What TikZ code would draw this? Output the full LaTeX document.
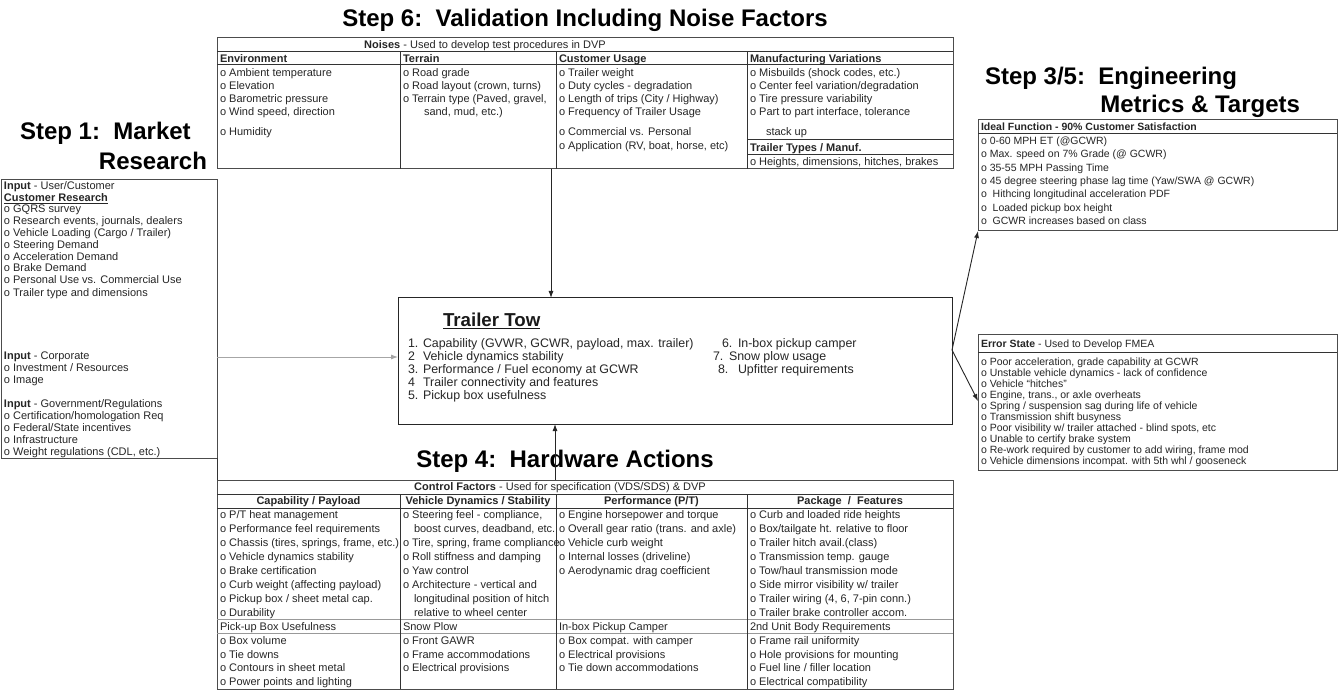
\documentclass[tikz,border=0pt]{standalone}
\usepackage{fontspec}
\setmainfont{Liberation Sans}
\usetikzlibrary{arrows.meta}
% font sizes (1pt = 1 output pixel)
\newcommand\tabfont{\fontsize{11}{13}\selectfont}
\newcommand\boxfont{\fontsize{10.5}{12}\selectfont}
\newcommand\ctrfont{\fontsize{12.4}{14}\selectfont}
\newcommand\stepfont{\fontsize{24}{26}\selectfont\bfseries}
\begin{document}
\begin{tikzpicture}[x=1pt,y=-1pt,
  every node/.style={inner sep=0pt,outer sep=0pt},
  frame/.style={draw=black!70,line width=1pt,anchor=north west},
  rule/.style={draw=black!80,line width=1pt},
  softrule/.style={draw=black!40,line width=0.8pt},
  cell/.style={anchor=base west,font=\tabfont,text=black!85},
  head/.style={cell,font=\tabfont\bfseries},
  chead/.style={head,anchor=base},
  bitem/.style={anchor=base west,font=\boxfont,text=black!85},
  citem/.style={anchor=base west,font=\ctrfont,text=black!85},
  steptitle/.style={font=\stepfont,text=black},
  arr/.style={draw=black!85,line width=0.9pt,-{Latex[length=7pt,width=5pt]}},
  feed/.style={arr,draw=black!35},
]
\fill[white] (0,0) rectangle (1340,692);
\useasboundingbox (0,0) rectangle (1340,692);

% ---------- step titles ----------
\node[steptitle,anchor=base] (s6) at (585,27) {Step 6:\ \ Validation Including Noise Factors};
\node[steptitle,anchor=base west] (s1a) at (20,140) {Step 1:\ \ Market};
\node[steptitle,anchor=base east] (s1b) at (207,170) {Research};
\node[steptitle,anchor=base west] (s35a) at (985,85) {Step 3/5:\ \ Engineering};
\node[steptitle,anchor=base east] (s35b) at (1300,113) {Metrics \& Targets};

% ---------- noise factors table ----------
\node[frame,minimum width=736pt,minimum height=131pt] (noise) at (217,38) {};
\draw[rule] (217,52) -- (953,52);
\draw[rule] (217,65) -- (953,65);
\foreach \cx in {400,556,747} \draw[rule] (\cx,52) -- (\cx,169);
\draw[rule] (747,140) -- (953,140);
\draw[rule] (747,155) -- (953,155);
\node[cell,anchor=base] (ntitle) at (485,49) {\textbf{Noises} - Used to develop test procedures in DVP};
\node[head] (nh1) at (220,62.3) {Environment};
\node[head] (nh2) at (403,62.3) {Terrain};
\node[head] (nh3) at (559,62.3) {Customer Usage};
\node[head] (nh4) at (750,62.3) {Manufacturing Variations};
\node[cell] (env1) at (220,76.8) {o Ambient temperature};
\node[cell] (env2) at (220,89.8) {o Elevation};
\node[cell] (env3) at (220,102.8) {o Barometric pressure};
\node[cell] (env4) at (220,115.8) {o Wind speed, direction};
\node[cell] (env5) at (220,135.8) {o Humidity};
\node[cell] (ter1) at (403,76.8) {o Road grade};
\node[cell] (ter2) at (403,89.8) {o Road layout (crown, turns)};
\node[cell] (ter3) at (403,102.8) {o Terrain type (Paved, gravel,};
\node[cell] (ter4) at (424,115.8) {sand, mud, etc.)};
\node[cell] (cus1) at (559,76.8) {o Trailer weight};
\node[cell] (cus2) at (559,89.8) {o Duty cycles - degradation};
\node[cell] (cus3) at (559,102.8) {o Length of trips (City / Highway)};
\node[cell] (cus4) at (559,115.8) {o Frequency of Trailer Usage};
\node[cell] (cus5) at (559,135.8) {o Commercial vs. Personal};
\node[cell] (cus6) at (559,149.3) {o Application (RV, boat, horse, etc)};
\node[cell] (man1) at (750,76.8) {o Misbuilds (shock codes, etc.)};
\node[cell] (man2) at (750,89.8) {o Center feel variation/degradation};
\node[cell] (man3) at (750,102.8) {o Tire pressure variability};
\node[cell] (man4) at (750,115.8) {o Part to part interface, tolerance};
\node[cell] (man5) at (766,135.8) {stack up};
\node[head] (man6) at (750,151.3) {Trailer Types / Manuf.};
\node[cell] (man7) at (750,165.6) {o Heights, dimensions, hitches, brakes};

% ---------- market research inputs ----------
\node[frame,minimum width=216pt,minimum height=278pt] (inbox) at (1,180) {};
\node[cell] (in1) at (4,190) {\textbf{Input} - User/Customer};
\node[cell] (in2) at (4,201.3) {\textbf{\underline{Customer Research}}};
\node[cell] (in3) at (4,213) {o GQRS survey};
\node[cell] (in4) at (4,224.8) {o Research events, journals, dealers};
\node[cell] (in5) at (4,236.6) {o Vehicle Loading (Cargo / Trailer)};
\node[cell] (in6) at (4,248.4) {o Steering Demand};
\node[cell] (in7) at (4,260.2) {o Acceleration Demand};
\node[cell] (in8) at (4,272) {o Brake Demand};
\node[cell] (in9) at (4,283.8) {o Personal Use vs. Commercial Use};
\node[cell] (in10) at (4,297) {o Trailer type and dimensions};
\node[cell] (in11) at (4,359) {\textbf{Input} - Corporate};
\node[cell] (in12) at (4,371) {o Investment / Resources};
\node[cell] (in13) at (4,383) {o Image};
\node[cell] (in14) at (4,407) {\textbf{Input} - Government/Regulations};
\node[cell] (in15) at (4,419) {o Certification/homologation Req};
\node[cell] (in16) at (4,431) {o Federal/State incentives};
\node[cell] (in17) at (4,443) {o Infrastructure};
\node[cell] (in18) at (4,455) {o Weight regulations (CDL, etc.)};

% ---------- central requirement box ----------
\node[frame,draw=black!85,minimum width=554pt,minimum height=126pt] (cbox) at (398,298) {};
\node[anchor=base west,font=\fontsize{18.7}{20}\selectfont\bfseries,text=black!90] (ctitle) at (443,326.5) {\underline{Trailer Tow}};
\node[citem] (cn1) at (408,347.4) {1.};
\node[citem] (ct1) at (423,347.4) {Capability (GVWR, GCWR, payload, max. trailer)};
\node[citem] (cn2) at (408,360.4) {2};
\node[citem] (ct2) at (423,360.4) {Vehicle dynamics stability};
\node[citem] (cn3) at (408,373.4) {3.};
\node[citem] (ct3) at (423,373.4) {Performance / Fuel economy at GCWR};
\node[citem] (cn4) at (408,386.4) {4};
\node[citem] (ct4) at (423,386.4) {Trailer connectivity and features};
\node[citem] (cn5) at (408,399.4) {5.};
\node[citem] (ct5) at (423,399.4) {Pickup box usefulness};
\node[citem] (cn6) at (722,347.4) {6.};
\node[citem] (ct6) at (738,347.4) {In-box pickup camper};
\node[citem] (cn7) at (713,360.4) {7.};
\node[citem] (ct7) at (729,360.4) {Snow plow usage};
\node[citem] (cn8) at (718,373.4) {8.};
\node[citem] (ct8) at (738,373.4) {Upfitter requirements};

% ---------- engineering metrics ----------
\node[frame,minimum width=359pt,minimum height=111pt] (ideal) at (978,120) {};
\draw[rule] (978,134) -- (1337,134);
\node[bitem,font=\boxfont\bfseries] (id0) at (981,130.8) {Ideal Function - 90\% Customer Satisfaction};
\node[bitem] (id1) at (981,144.3) {o 0-60 MPH ET (@GCWR)};
\node[bitem] (id2) at (981,157.7) {o Max. speed on 7\% Grade (@ GCWR)};
\node[bitem] (id3) at (981,171.1) {o 35-55 MPH Passing Time};
\node[bitem] (id4) at (981,184.5) {o 45 degree steering phase lag time (Yaw/SWA @ GCWR)};
\node[bitem] (id5) at (981,197.9) {o\ \ Hithcing longitudinal acceleration PDF};
\node[bitem] (id6) at (981,211.3) {o\ \ Loaded pickup box height};
\node[bitem] (id7) at (981,224.7) {o\ \ GCWR increases based on class};

\node[frame,minimum width=359pt,minimum height=136pt] (err) at (978,334) {};
\draw[rule] (978,352) -- (1337,352);
\node[bitem] (er0) at (981,347) {\textbf{Error State} - Used to Develop FMEA};
\node[bitem] (er1) at (981,365.8) {o Poor acceleration, grade capability at GCWR};
\node[bitem] (er2) at (981,376.8) {o Unstable vehicle dynamics - lack of confidence};
\node[bitem] (er3) at (981,387.8) {o Vehicle ``hitches''};
\node[bitem] (er4) at (981,398.8) {o Engine, trans., or axle overheats};
\node[bitem] (er5) at (981,409.8) {o Spring / suspension sag during life of vehicle};
\node[bitem] (er6) at (981,420.8) {o Transmission shift busyness};
\node[bitem] (er7) at (981,431.8) {o Poor visibility w/ trailer attached - blind spots, etc};
\node[bitem] (er8) at (981,442.8) {o Unable to certify brake system};
\node[bitem] (er9) at (981,453.8) {o Re-work required by customer to add wiring, frame mod};
\node[bitem] (er10) at (981,464.8) {o Vehicle dimensions incompat. with 5th whl / gooseneck};

% ---------- hardware actions ----------
\node[steptitle,anchor=base] (s4) at (565,467) {Step 4:\ \ Hardware Actions};
\node[frame,minimum width=736pt,minimum height=209pt] (ctrl) at (217,480) {};
\draw[rule] (217,494) -- (953,494);
\draw[rule] (217,508) -- (953,508);
\draw[softrule] (217,619) -- (953,619);
\draw[softrule] (217,633) -- (953,633);
\foreach \cx in {400,556,747} \draw[rule] (\cx,494) -- (\cx,689);
\node[cell,anchor=base] (ktitle) at (560,490.8) {\textbf{Control Factors} - Used for specification (VDS/SDS) \& DVP};
\node[chead] (kh1) at (308.5,504.7) {Capability / Payload};
\node[chead] (kh2) at (478,504.7) {Vehicle Dynamics / Stability};
\node[chead] (kh3) at (651.5,504.7) {Performance (P/T)};
\node[chead] (kh4) at (850,504.7) {Package\ \ /\ \ Features};

\node[cell] (ca1) at (220,518.7) {o P/T heat management};
\node[cell] (ca2) at (220,532.6) {o Performance feel requirements};
\node[cell] (ca3) at (220,546.5) {o Chassis (tires, springs, frame, etc.)};
\node[cell] (ca4) at (220,560.5) {o Vehicle dynamics stability};
\node[cell] (ca5) at (220,574.4) {o Brake certification};
\node[cell] (ca6) at (220,588.3) {o Curb weight (affecting payload)};
\node[cell] (ca7) at (220,602.2) {o Pickup box / sheet metal cap.};
\node[cell] (ca8) at (220,616.2) {o Durability};
\node[cell] (ca9) at (220,630.1) {Pick-up Box Usefulness};
\node[cell] (ca10) at (220,644.0) {o Box volume};
\node[cell] (ca11) at (220,658.0) {o Tie downs};
\node[cell] (ca12) at (220,671.9) {o Contours in sheet metal};
\node[cell] (ca13) at (220,685.8) {o Power points and lighting};

\node[cell] (vd1) at (403,518.7) {o Steering feel - compliance,};
\node[cell] (vd2) at (414,532.6) {boost curves, deadband, etc.};
\node[cell] (vd3) at (403,546.5) {o Tire, spring, frame compliance};
\node[cell] (vd4) at (403,560.5) {o Roll stiffness and damping};
\node[cell] (vd5) at (403,574.4) {o Yaw control};
\node[cell] (vd6) at (403,588.3) {o Architecture - vertical and};
\node[cell] (vd7) at (414,602.2) {longitudinal position of hitch};
\node[cell] (vd8) at (414,616.2) {relative to wheel center};
\node[cell] (vd9) at (403,630.1) {Snow Plow};
\node[cell] (vd10) at (403,644.0) {o Front GAWR};
\node[cell] (vd11) at (403,658.0) {o Frame accommodations};
\node[cell] (vd12) at (403,671.9) {o Electrical provisions};

\node[cell] (pf1) at (559,518.7) {o Engine horsepower and torque};
\node[cell] (pf2) at (559,532.6) {o Overall gear ratio (trans. and axle)};
\node[cell] (pf3) at (559,546.5) {o Vehicle curb weight};
\node[cell] (pf4) at (559,560.5) {o Internal losses (driveline)};
\node[cell] (pf5) at (559,574.4) {o Aerodynamic drag coefficient};
\node[cell] (pf6) at (559,630.1) {In-box Pickup Camper};
\node[cell] (pf7) at (559,644.0) {o Box compat. with camper};
\node[cell] (pf8) at (559,658.0) {o Electrical provisions};
\node[cell] (pf9) at (559,671.9) {o Tie down accommodations};

\node[cell] (pk1) at (750,518.7) {o Curb and loaded ride heights};
\node[cell] (pk2) at (750,532.6) {o Box/tailgate ht. relative to floor};
\node[cell] (pk3) at (750,546.5) {o Trailer hitch avail.(class)};
\node[cell] (pk4) at (750,560.5) {o Transmission temp. gauge};
\node[cell] (pk5) at (750,574.4) {o Tow/haul transmission mode};
\node[cell] (pk6) at (750,588.3) {o Side mirror visibility w/ trailer};
\node[cell] (pk7) at (750,602.2) {o Trailer wiring (4, 6, 7-pin conn.)};
\node[cell] (pk8) at (750,616.2) {o Trailer brake controller accom.};
\node[cell] (pk9) at (750,630.1) {2nd Unit Body Requirements};
\node[cell] (pk10) at (750,644.0) {o Frame rail uniformity};
\node[cell] (pk11) at (750,658.0) {o Hole provisions for mounting};
\node[cell] (pk12) at (750,671.9) {o Fuel line / filler location};
\node[cell] (pk13) at (750,685.8) {o Electrical compatibility};

% ---------- connectors ----------
\coordinate (ax) at (551,0);
\coordinate (bx) at (555,0);
\coordinate (ly) at (0,357);
\coordinate (ry) at (0,350);
\coordinate (iy) at (0,231);
\coordinate (ey) at (0,401);
\draw[rule] (inbox.south east) -- (ctrl.north west);
\draw[arr] (noise.south -| ax) -- (cbox.north -| ax);
\draw[arr] (ctrl.north -| bx) -- (cbox.south -| bx);
\draw[feed] (inbox.east |- ly) -- (cbox.west |- ly);
\draw[arr] (cbox.east |- ry) -- (ideal.west |- iy);
\draw[arr] (cbox.east |- ry) -- (err.west |- ey);
\end{tikzpicture}
\end{document}
